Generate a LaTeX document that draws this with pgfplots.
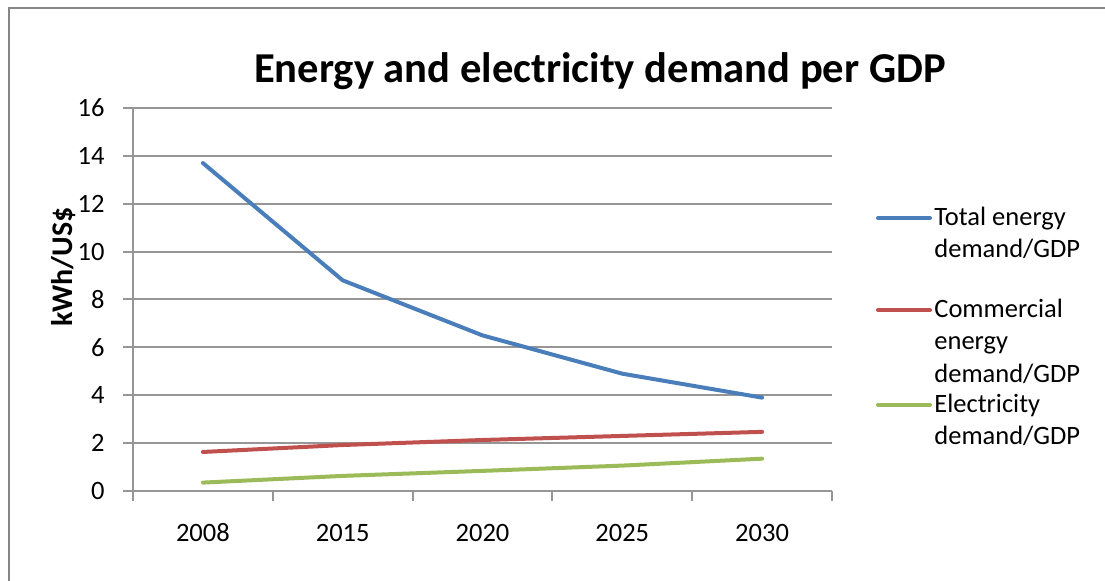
\documentclass[border=0pt]{standalone}
\usepackage{pgfplots}
\pgfplotsset{compat=1.18}
\usepackage{fontspec}
\setmainfont{Carlito}

\definecolor{seriesBlue}{RGB}{74,126,187}
\definecolor{seriesRed}{RGB}{192,80,77}
\definecolor{seriesGreen}{RGB}{155,187,89}
\definecolor{gridgray}{RGB}{150,150,150}
\definecolor{framegray}{RGB}{134,134,134}

\begin{document}
\begin{tikzpicture}[x=0.5pt,y=0.5pt]
\useasboundingbox (0,0) rectangle (1105,581);
\begin{scope}
\clip (0,0) rectangle (1105,581);
\draw[framegray, line width=1.4pt] (9,-10) -- (9,573) -- (1120,573);
\end{scope}

% chart title and axis title
\node[anchor=base, font=\fontsize{21.3}{25}\selectfont\bfseries] at (600,498)
  {Energy and electricity demand per GDP};
\node[rotate=90, font=\fontsize{15}{18}\selectfont\bfseries] at (64,314) {kWh/US\$};

\begin{axis}[
  at={(66.5pt,45pt)}, anchor=south west,
  scale only axis, width=349.5pt, height=191.5pt,
  xmin=-0.5, xmax=4.5, ymin=0, ymax=16,
  xtick={0,1,2,3,4},
  xticklabels={2008,2015,2020,2025,2030},
  minor xtick={-0.5,0.5,1.5,2.5,3.5,4.5},
  ytick={0,2,...,16},
  axis x line*=bottom, axis y line*=left,
  axis line style={gridgray, line width=1pt, -},
  ymajorgrids, grid style={gridgray, line width=1pt},
  tick align=outside,
  major x tick style={draw=none},
  minor x tick style={gridgray, line width=1pt},
  major y tick style={gridgray, line width=1pt},
  major tick length=5pt, minor tick length=5pt,
  tick label style={font=\fontsize{13.25}{16}\selectfont},
  /pgf/number format/assume math mode=true,
  yticklabel style={anchor=east, inner sep=0pt, xshift=-9pt},
  xticklabel style={anchor=center, inner sep=0pt, yshift=-16pt},
  clip=false,
  every axis plot/.append style={line width=2pt, line cap=round, line join=round, mark=none},
]
\addplot[seriesBlue]  coordinates {(0,13.7) (1,8.8) (2,6.5) (3,4.9) (4,3.9)};
\addplot[seriesRed]   coordinates {(0,1.63) (1,1.92) (2,2.13) (3,2.30) (4,2.47)};
\addplot[seriesGreen] coordinates {(0,0.35) (1,0.63) (2,0.84) (3,1.06) (4,1.35)};
\end{axis}

% legend
\begin{scope}[line width=2pt, line cap=round]
\draw[seriesBlue]  (878,363) -- (930,363);
\draw[seriesRed]   (878,271) -- (930,271);
\draw[seriesGreen] (878,176) -- (930,176);
\end{scope}
\begin{scope}[every node/.style={anchor=base west, inner sep=0pt, font=\fontsize{13.25}{16}\selectfont}]
\node at (934,355) {Total energy};
\node at (934,323) {demand/GDP};
\node at (934,263) {Commercial};
\node at (934,231) {energy};
\node at (934,198) {demand/GDP};
\node at (934,168) {Electricity};
\node at (934,136) {demand/GDP};
\end{scope}
\end{tikzpicture}
\end{document}
